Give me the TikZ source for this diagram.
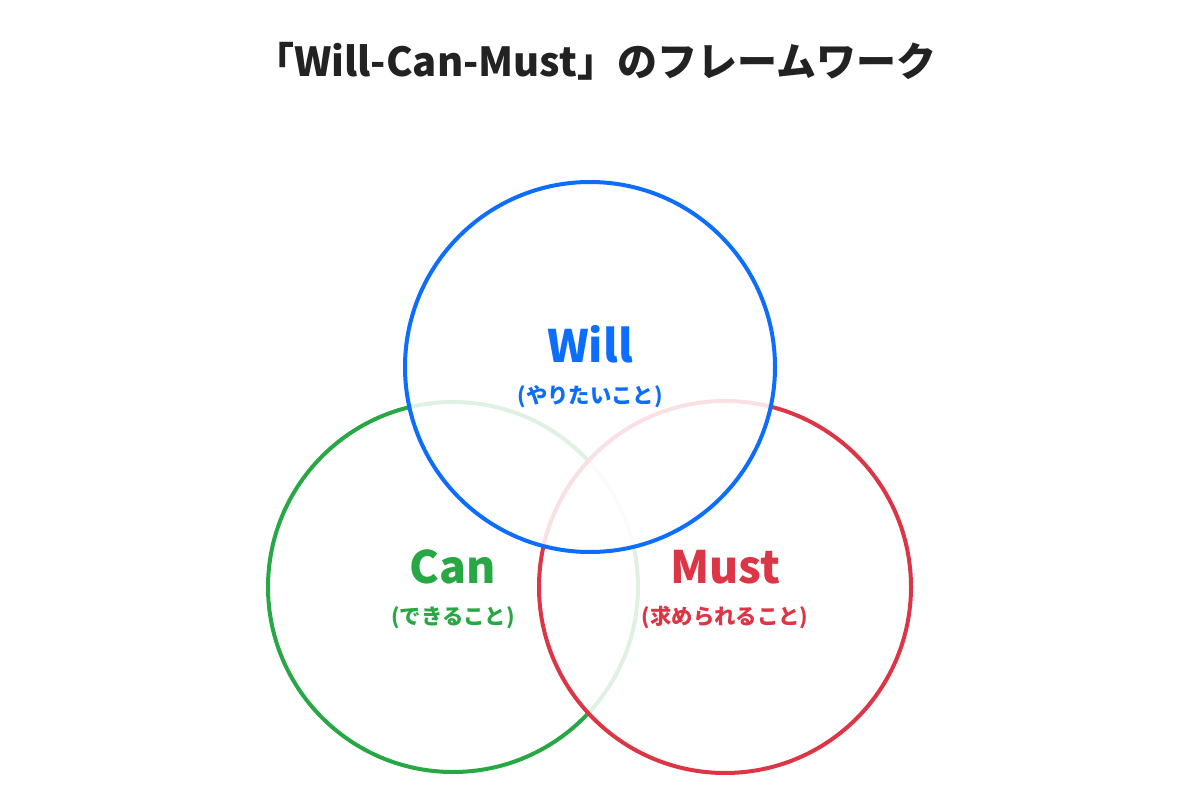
\documentclass[tikz,border=0pt]{standalone}
\usepackage{fontspec}
\setmainfont{Noto Sans CJK JP}
\definecolor{cblue}{HTML}{0D6EFD}
\definecolor{cgreen}{HTML}{28A745}
\definecolor{cred}{HTML}{DC3545}
\definecolor{ctext}{HTML}{222222}
\begin{document}
\begin{tikzpicture}[x=0.75pt,y=-0.75pt,
  ring/.style={line width=3pt,fill=white,fill opacity=0.85,draw opacity=1},
  head/.style={font=\fontsize{33.5}{38}\selectfont\bfseries,anchor=base},
  sub/.style={font=\fontsize{16}{19}\selectfont\bfseries,anchor=base}]
\useasboundingbox[fill=white] (0,0) rectangle (1200,802);
\node[font=\fontsize{30}{35}\selectfont\bfseries,text=ctext,anchor=base] (title) at (595,77) {「Will-Can-Must」のフレームワーク};
\draw[ring,draw=cgreen] (453,587) circle[radius=185];
\draw[ring,draw=cred] (725,587) circle[radius=186];
\draw[ring,draw=cblue] (590,367) circle[radius=185];
\node[head,text=cblue] (will) at (590,363) {Will};
\node[sub,text=cblue] (wills) at (590,403) {(やりたいこと)};
\node[head,text=cgreen] (can) at (453,583) {Can};
\node[sub,text=cgreen] (cans) at (453,624) {(できること)};
\node[head,text=cred] (must) at (725,583) {Must};
\node[sub,text=cred] (musts) at (725,624) {(求められること)};
\end{tikzpicture}
\end{document}
